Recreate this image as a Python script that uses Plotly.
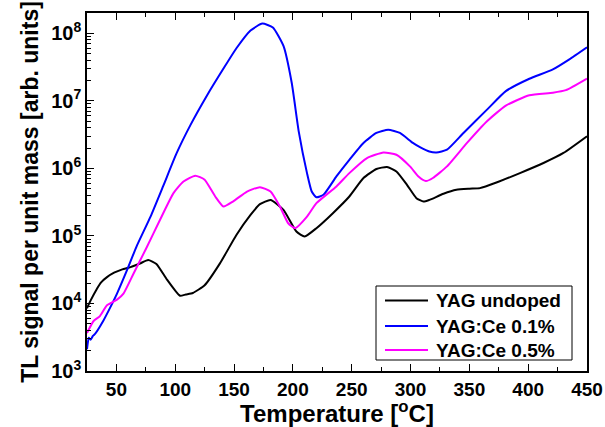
import plotly.graph_objects as go

# ---- data ----
t_undoped = [25, 28, 33, 37, 42, 48, 55, 62, 70, 77, 84, 93, 104, 109, 115, 125, 138, 152,
             164, 172, 181, 192, 203, 210, 220, 234, 248, 260, 271, 280, 288, 297, 305, 311,
             316, 328, 339, 350, 359, 373, 393, 413, 430, 450]
v_undoped = [8.5e3, 1.1e4, 1.6e4, 2.05e4, 2.45e4, 2.85e4, 3.2e4, 3.45e4, 3.9e4, 4.4e4,
             3.85e4, 2.25e4, 1.3e4, 1.36e4, 1.43e4, 1.86e4, 3.92e4, 1.03e5, 2.04e5, 2.95e5,
             3.4e5, 2.43e5, 1.16e5, 9.8e4, 1.3e5, 2.17e5, 3.83e5, 7.18e5, 9.77e5, 1.05e6,
             9.0e5, 5.7e5, 3.62e5, 3.22e5, 3.41e5, 4.2e5, 4.81e5, 5.0e5, 5.1e5, 6.17e5,
             8.51e5, 1.2e6, 1.69e6, 2.99e6]

t_ce01 = [25, 26.5, 28, 30, 32, 39, 45, 50.5, 59, 67, 79, 90, 101, 113, 127, 141, 152,
          164, 174, 183, 192, 199, 205, 212, 216, 220, 226, 237, 248, 260, 271, 281, 291,
          302, 308, 316, 322, 331, 345, 365, 381, 401, 421, 435, 450]
v_ce01 = [2.1e3, 3.1e3, 2.9e3, 3.3e3, 3.57e3, 5.6e3, 8.9e3, 1.4e4, 3.11e4, 6.9e4, 1.93e5,
          5.6e5, 1.65e6, 4.4e6, 1.2e7, 3.0e7, 6.0e7, 1.1e8, 1.39e8, 1.22e8, 6.5e7,
          1.85e7, 3.5e6, 8.5e5, 4.54e5, 3.74e5, 4.06e5, 7.6e5, 1.34e6, 2.38e6, 3.34e6,
          3.74e6, 3.34e6, 2.38e6, 2.07e6, 1.78e6, 1.72e6, 1.89e6, 3.34e6, 7.4e6, 1.39e7,
          2.12e7, 2.92e7, 4.11e7, 6.2e7]

t_ce05 = [25, 30.6, 36, 42, 50.5, 56, 64.6, 76, 87, 98.5, 107, 117, 125, 134, 141, 149,
          161, 172, 181, 189, 196, 202, 212, 220, 237, 248, 263, 277, 288, 299.5, 307, 313,
          319, 331, 348, 365, 381, 401, 421, 432, 450]
v_ce05 = [3.65e3, 5.5e3, 6.5e3, 9.4e3, 1.14e4, 1.4e4, 2.78e4, 6.9e4, 1.72e5, 4.3e5, 6.4e5,
          7.8e5, 6.8e5, 3.83e5, 2.72e5, 3.22e5, 4.54e5, 5.27e5, 4.54e5, 2.72e5, 1.54e5,
          1.3e5, 1.93e5, 3.05e5, 5.4e5, 8.5e5, 1.42e6, 1.72e6, 1.59e6, 1.07e6, 7.5e5, 6.5e5,
          7.2e5, 1.07e6, 2.38e6, 4.98e6, 8.5e6, 1.21e7, 1.32e7, 1.44e7, 2.14e7]

series_names = ["YAG undoped", "YAG:Ce 0.1%", "YAG:Ce 0.5%"]
series_colors = ["#000000", "#0000FF", "#FF00FF"]

y_tick_vals = [1e3, 1e4, 1e5, 1e6, 1e7, 1e8]
y_tick_text = ["10<sup>3</sup>", "10<sup>4</sup>", "10<sup>5</sup>",
               "10<sup>6</sup>", "10<sup>7</sup>", "10<sup>8</sup>"]
y_minor_vals = [k * 10 ** n for n in range(3, 9) for k in range(2, 10)]

FONT = "Liberation Sans, Arial, sans-serif"

fig = go.Figure()
for t, v, name, col in zip([t_undoped, t_ce01, t_ce05], [v_undoped, v_ce01, v_ce05],
                           series_names, series_colors):
    fig.add_trace(go.Scatter(x=t, y=v, mode="lines", name=name, showlegend=False,
                             line=dict(color=col, width=2, shape="spline", smoothing=0.5)))

# ---- legend (drawn as a boxed key in paper coordinates) ----
W, H = 605, 427
ML, MR, MT, MB = 87, 18, 13, 56
PW, PH = W - ML - MR, H - MT - MB

def px(x):
    return (x - ML) / PW

def py(y):
    return (H - MB - y) / PH

shapes = [dict(type="rect", xref="paper", yref="paper",
               x0=px(376), x1=px(572), y0=py(360), y1=py(286),
               line=dict(color="black", width=1), fillcolor="white", layer="above")]
annotations = []
row_y = [300.5, 326, 350]
for name, col, ry in zip(series_names, series_colors, row_y):
    shapes.append(dict(type="line", xref="paper", yref="paper",
                       x0=px(385), x1=px(428), y0=py(ry), y1=py(ry),
                       line=dict(color=col, width=2), layer="above"))
    annotations.append(dict(xref="paper", yref="paper", x=px(434), y=py(ry),
                            xanchor="left", yanchor="middle", showarrow=False,
                            text=name,
                            font=dict(family=FONT, size=19, weight="bold", color="black")))

fig.update_layout(
    width=W, height=H,
    margin=dict(l=ML, r=MR, t=MT, b=MB, autoexpand=False),
    plot_bgcolor="white", paper_bgcolor="white",
    font=dict(family=FONT, color="black"),
    showlegend=False,
    shapes=shapes, annotations=annotations,
)

fig.update_xaxes(
    range=[25, 450], tick0=0, dtick=50, automargin=False,
    ticks="inside", ticklen=7, tickwidth=1.2, tickcolor="black",
    minor=dict(ticks="inside", ticklen=4, dtick=25, tick0=0, tickcolor="black", tickwidth=1),
    showline=True, linecolor="black", linewidth=1.5, mirror="ticks",
    showgrid=False, zeroline=False,
    tickfont=dict(family=FONT, size=19, weight="bold", color="black"),
    title=dict(text="Temperature [<sup>o</sup>C]",
               font=dict(family=FONT, size=24, weight="bold", color="black"), standoff=7),
)

fig.update_yaxes(
    type="log", range=[3, 8.3], automargin=False,
    tickmode="array", tickvals=y_tick_vals, ticktext=y_tick_text,
    ticks="inside", ticklen=7, tickwidth=1.2, tickcolor="black",
    minor=dict(ticks="inside", ticklen=4, tickmode="array", tickvals=y_minor_vals,
               tickcolor="black", tickwidth=1),
    showline=True, linecolor="black", linewidth=1.5, mirror=True,
    showgrid=False, zeroline=False,
    tickfont=dict(family=FONT, size=20, weight="bold", color="black"),
    title=dict(text="TL signal per unit mass [arb. units]",
               font=dict(family=FONT, size=23, weight="bold", color="black"), standoff=6),
)

fig.write_html("out.html")
